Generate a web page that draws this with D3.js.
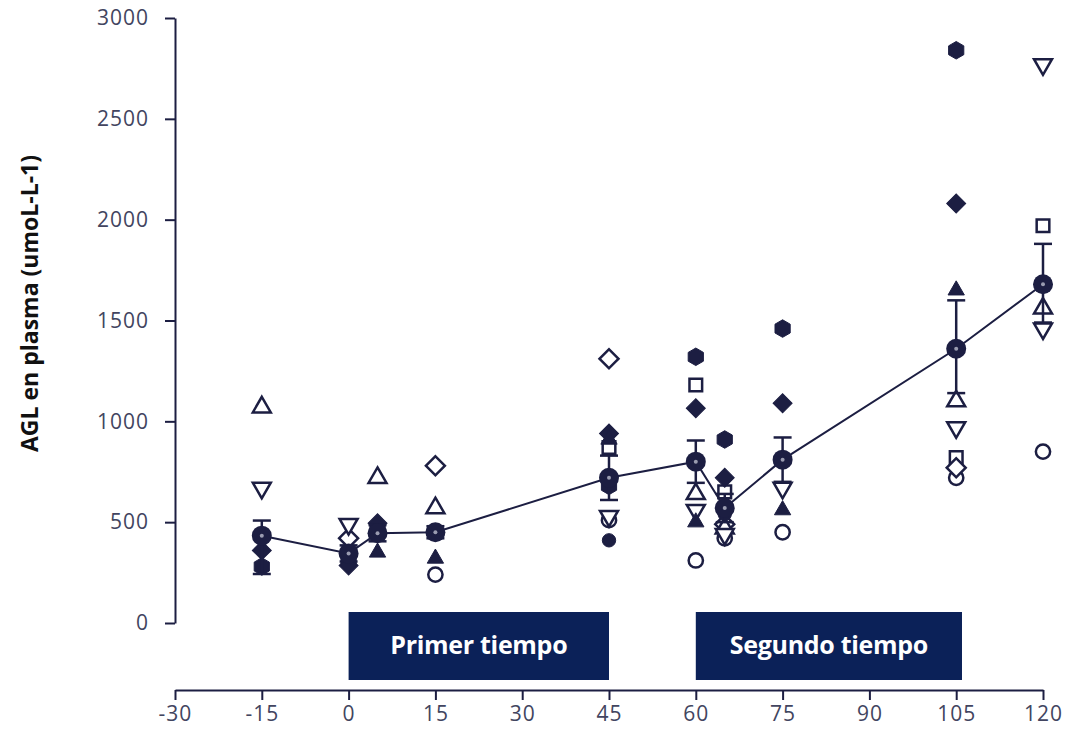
<!DOCTYPE html>
<html>
<head>
<meta charset="utf-8">
<script src="https://cdn.jsdelivr.net/npm/d3@7"></script>
<style>
  body { margin: 0; background: #fff; }
  svg { display: block; }
</style>
</head>
<body>
<div id="chart"></div>
<script>
// tiempos de muestreo (min)
const times = [-15, 0, 5, 15, 45, 60, 65, 75, 105, 120];

// media y barras de error
const meanVals = [433, 345, 445, 450, 720, 800, 570, 810, 1360, 1680];
const errUp = [75, 40, 40, 30, 110, 105, 70, 110, 240, 200];
const errDown = [190, 40, 40, 30, 110, 105, 70, 110, 220, 190];

// sujetos individuales (null = no visible)
const openCircle = [null, null, null, 240, 510, 310, 420, 450, 720, 850];
const openTriUp = [1070, null, 720, 570, null, 640, 470, null, 1100, 1560];
const openTriDown = [670, 490, null, null, 530, 560, 440, 670, 970, 1460];
const openTriDown2 = [null, null, null, null, null, null, null, null, null, 2770];
const openSquare = [null, null, null, null, 870, 1180, 650, null, 820, 1970];
const openDiamond = [null, 420, null, 780, 1310, null, 490, null, 770, null];
const fillHex = [280, 310, 470, null, 680, 1320, 910, 1460, 2840, null];
const fillDiamond = [360, 285, 495, null, 940, 1065, 720, 1090, 2080, null];
const fillTriUp = [null, null, 350, 320, 910, 500, null, 560, 1650, null];
const fillCircle = [null, null, null, null, 410, null, 540, null, null, null];

const yTicks = [0, 500, 1000, 1500, 2000, 2500, 3000];
const xTicks = [-30, -15, 0, 15, 30, 45, 60, 75, 90, 105, 120];

const phaseLabels = ['Primer tiempo', 'Segundo tiempo'];
const phaseStart = [0, 60];
const phaseEnd = [45, 106];

const ink = '#1c1e42';
const boxColor = '#0b2158';
const tickColor = '#424560';

const width = 1066, height = 731;

const svg = d3.select('#chart').append('svg')
    .attr('width', width)
    .attr('height', height);

const x = d3.scaleLinear().domain([-30, 120]).range([175, 1043]);
const y = d3.scaleLinear().domain([0, 3000]).range([623, 18]);

// eje Y
const yAxis = svg.append('g')
    .attr('transform', `translate(${x(-30)},0)`)
    .call(d3.axisLeft(y).tickValues(yTicks).tickSize(10).tickSizeOuter(0).tickPadding(16)
        .tickFormat(d => String(d)));
yAxis.select('.domain').attr('stroke', ink).attr('stroke-width', 2);
yAxis.selectAll('.tick line').attr('stroke', ink).attr('stroke-width', 2);
yAxis.selectAll('.tick text')
    .attr('fill', tickColor)
    .style('font-family', '"Open Sans", sans-serif')
    .style('font-size', '21px')
    .style('letter-spacing', '1px');

// eje X
const xAxis = svg.append('g')
    .attr('transform', 'translate(0,690)')
    .call(d3.axisBottom(x).tickValues(xTicks).tickSize(10).tickSizeOuter(0).tickPadding(6)
        .tickFormat(d => String(d)));
xAxis.select('.domain').attr('stroke', ink).attr('stroke-width', 2);
xAxis.selectAll('.tick line').attr('stroke', ink).attr('stroke-width', 2);
xAxis.selectAll('.tick text')
    .attr('fill', tickColor)
    .style('font-family', '"Open Sans", sans-serif')
    .style('font-size', '21px')
    .style('letter-spacing', '1px');

// título eje Y
svg.append('text')
    .attr('transform', `translate(32,${(140 + 467) / 2}) rotate(-90)`)
    .attr('text-anchor', 'middle')
    .attr('dominant-baseline', 'middle')
    .attr('fill', '#111')
    .style('font-family', '"Open Sans", sans-serif')
    .style('font-weight', 700)
    .style('font-size', '23px')
    .text('AGL en plasma (umoL-L-1)');

// cajas de fases
const phases = phaseLabels.map((l, i) => ({ label: l, a: phaseStart[i], b: phaseEnd[i] }));
const pg = svg.selectAll('.phase').data(phases).enter().append('g').attr('class', 'phase');
pg.append('rect')
    .attr('x', d => x(d.a))
    .attr('y', 612)
    .attr('width', d => x(d.b) - x(d.a))
    .attr('height', 68)
    .attr('fill', boxColor);
pg.append('text')
    .attr('x', d => (x(d.a) + x(d.b)) / 2)
    .attr('y', 647)
    .attr('text-anchor', 'middle')
    .attr('dominant-baseline', 'middle')
    .attr('fill', '#fff')
    .style('font-family', '"Open Sans", sans-serif')
    .style('font-weight', 700)
    .style('font-size', '25px')
    .style('letter-spacing', '-0.3px')
    .text(d => d.label);

// formas
const hexagon = {
    draw(ctx, size) {
        const r = Math.sqrt(size / (1.5 * Math.sqrt(3)));
        for (let i = 0; i < 6; i++) {
            const a = Math.PI / 6 + i * Math.PI / 3;
            const px = r * Math.cos(a), py = r * Math.sin(a);
            if (i === 0) ctx.moveTo(px, py); else ctx.lineTo(px, py);
        }
        ctx.closePath();
    }
};

const subjects = [
    { vals: openCircle, type: d3.symbolCircle, size: 160, rot: 0, filled: false },
    { vals: openSquare, type: d3.symbolSquare, size: 160, rot: 0, filled: false },
    { vals: openDiamond, type: d3.symbolSquare, size: 180, rot: 45, filled: false },
    { vals: openTriUp, type: d3.symbolTriangle, size: 140, rot: 0, filled: false },
    { vals: openTriDown, type: d3.symbolTriangle, size: 140, rot: 180, filled: false },
    { vals: openTriDown2, type: d3.symbolTriangle, size: 140, rot: 180, filled: false },
    { vals: fillHex, type: hexagon, size: 200, rot: 0, filled: true },
    { vals: fillDiamond, type: d3.symbolSquare, size: 180, rot: 45, filled: true },
    { vals: fillTriUp, type: d3.symbolTriangle, size: 115, rot: 0, filled: true },
    { vals: fillCircle, type: d3.symbolCircle, size: 140, rot: 0, filled: true }
];

const pts = [];
subjects.forEach(s => {
    s.vals.forEach((v, i) => {
        if (v !== null) pts.push({ t: times[i], v: v, s: s });
    });
});

svg.append('g').selectAll('path')
    .data(pts)
    .enter().append('path')
    .attr('d', d => d3.symbol().type(d.s.type).size(d.s.size)())
    .attr('transform', d => `translate(${x(d.t)},${y(d.v)}) rotate(${d.s.rot})`)
    .attr('fill', d => d.s.filled ? ink : '#fff')
    .attr('stroke', ink)
    .attr('stroke-width', d => d.s.filled ? 1 : 2.5);

// media
const means = times.map((t, i) => ({ t: t, v: meanVals[i], hi: meanVals[i] + errUp[i], lo: meanVals[i] - errDown[i] }));

const eb = svg.append('g').selectAll('g').data(means).enter().append('g')
    .attr('stroke', ink).attr('stroke-width', 2.5);
eb.append('line')
    .attr('x1', d => x(d.t)).attr('x2', d => x(d.t))
    .attr('y1', d => y(d.hi)).attr('y2', d => y(d.lo));
eb.append('line')
    .attr('x1', d => x(d.t) - 9).attr('x2', d => x(d.t) + 9)
    .attr('y1', d => y(d.hi)).attr('y2', d => y(d.hi));
eb.append('line')
    .attr('x1', d => x(d.t) - 9).attr('x2', d => x(d.t) + 9)
    .attr('y1', d => y(d.lo)).attr('y2', d => y(d.lo));

svg.append('path')
    .datum(means)
    .attr('fill', 'none')
    .attr('stroke', ink)
    .attr('stroke-width', 2)
    .attr('d', d3.line().x(d => x(d.t)).y(d => y(d.v)));

svg.append('g').selectAll('circle')
    .data(means)
    .enter().append('circle')
    .attr('cx', d => x(d.t))
    .attr('cy', d => y(d.v))
    .attr('r', 10)
    .attr('fill', ink);

svg.append('g').selectAll('circle')
    .data(means)
    .enter().append('circle')
    .attr('cx', d => x(d.t))
    .attr('cy', d => y(d.v))
    .attr('r', 2)
    .attr('fill', '#9a9cb0');
</script>
</body>
</html>
